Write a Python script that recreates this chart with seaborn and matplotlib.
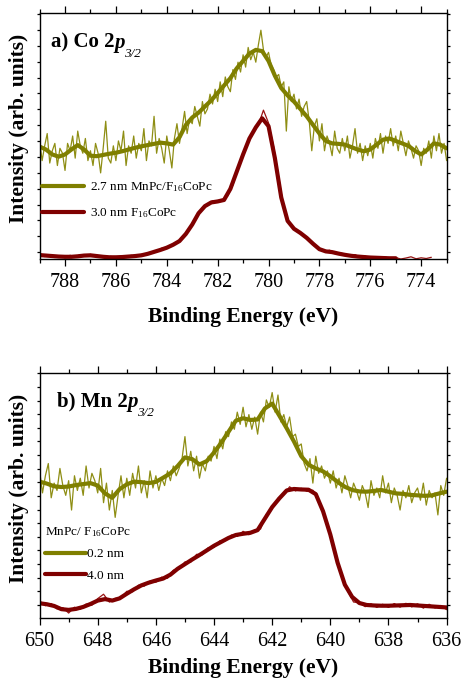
import numpy as np
import matplotlib
matplotlib.use("Agg")
import matplotlib.pyplot as plt
from matplotlib.ticker import MultipleLocator
import seaborn as sns

# -------------------------
# data (intensity in % of axis height)
# -------------------------
# a) Co 2p3/2 : smooth fits every 0.25 eV
co_fit_start, co_fit_step = 789.0, -0.25
co_olive_fit = [45.7, 44.5, 42.5, 41.6, 42.5, 44.5, 46.3, 44.5, 42.0,
                41.8, 42.3, 42.8, 43.2, 43.8, 44.5, 45.2, 45.8,
                46.3, 46.8, 47.3, 47.0, 46.5, 49.5, 54.5, 57.5,
                59.5, 62.0, 64.5, 67.5, 70.5, 73.5, 77.5, 80.5,
                83.5, 85.0, 84.5, 80.5, 74.5, 69.5, 66.5, 64.0,
                61.0, 58.0, 54.5, 51.0, 48.0, 47.0, 46.8, 46.5,
                45.5, 44.5, 43.8, 44.5, 46.5, 48.5, 49.0, 48.0,
                47.0, 46.0, 44.0, 42.5, 44.5, 47.0, 46.5, 45.0]
co_red_fit = [1.6, 1.4, 1.2, 1.0, 0.9, 0.9, 1.1, 1.4, 1.5,
              1.2, 0.9, 0.7, 0.7, 0.8, 1.0, 1.2, 1.5,
              2.1, 2.9, 3.7, 4.6, 5.8, 7.3, 10.2, 14.0,
              18.6, 21.5, 23.0, 23.4, 24.0, 28.5, 35.5, 42.5,
              49.0, 53.5, 57.2, 54.0, 41.0, 25.0, 15.5, 12.3,
              10.6, 8.6, 6.2, 4.0, 3.1, 2.8, 2.2, 1.7,
              1.3, 1.0, 0.8, 0.6, 0.5, 0.4, 0.3, 0.3]

# a) raw spectra: olive every 0.1 eV, red every 0.2 eV
co_olive_raw_step = -0.1
co_olive_raw = [48, 40, 46, 51, 39, 44, 47, 38, 45, 43,
                36, 47, 44, 50, 41, 52, 46, 43, 49, 40,
                44, 38, 47, 43, 35, 45, 56, 41, 39, 46,
                40, 48, 44, 52, 38, 46, 43, 50, 41, 47,
                44, 53, 40, 48, 46, 58, 43, 49, 45, 39,
                50, 44, 37, 49, 55, 47, 53, 60, 51, 57,
                55, 62, 58, 54, 64, 59, 61, 67, 63, 69,
                64, 72, 66, 74, 70, 68, 77, 73, 80, 76,
                83, 78, 86, 81, 84, 80, 87, 93, 85, 82,
                84, 79, 77, 74, 75, 70, 72, 52, 70, 64,
                67, 61, 65, 58, 62, 64, 56, 44, 54, 57,
                48, 55, 44, 50, 47, 42, 52, 45, 43, 49,
                44, 50, 41, 46, 53, 43, 47, 40, 46, 42,
                47, 41, 49, 45, 51, 43, 50, 47, 53, 46,
                50, 44, 52, 47, 42, 48, 45, 41, 46, 44,
                38, 45, 43, 48, 41, 50, 44, 51, 43, 47,
                40]
co_red_raw_step = -0.2
co_red_raw = [2.2, 1.0, 1.7, 0.6, 1.3, 0.5, 1.5, 0.8, 1.8, 1.1,
              1.9, 1.0, 1.3, 0.5, 1.1, 0.4, 1.2, 0.6, 1.5, 0.9,
              1.9, 1.7, 3.0, 2.9, 4.4, 4.3, 5.9, 6.5, 8.9, 10.7,
              14.3, 17.4, 20.9, 22.2, 23.6, 23.1, 24.2, 25.7, 30.1, 36.6,
              42.8, 47.4, 51.9, 54.5, 60.5, 55.3, 45.7, 33.3, 20.4, 14.7,
              12.0, 11.3, 9.2, 7.9, 5.3, 4.4, 3.0, 3.6, 2.2, 2.5,
              2.0, 1.1, 1.8, 0.6, 1.2, 0.3, 0.9, 0.2, 0.8, 0.1,
              0.6, 0.0, 0.4, 0.9, 0.1, 0.5, 0.2, 0.7]

# b) Mn 2p3/2 : smooth fits every 0.25 eV
mn_fit_start, mn_fit_step = 650.0, -0.25
mn_olive_fit = [55.6, 54.8, 53.7, 53.4, 53.6, 54.2, 54.6, 55.0, 54.0,
                50.8, 49.0, 52.5, 54.5, 55.6, 55.4, 55.0, 55.5,
                57.2, 59.0, 62.0, 65.5, 64.8, 62.6, 64.0, 67.5,
                71.5, 76.0, 80.5, 81.5, 80.8, 81.0, 85.5, 87.5,
                82.5, 77.4, 72.0, 66.0, 62.5, 61.0, 59.8, 57.8,
                55.5, 53.5, 52.2, 51.6, 51.5, 51.8, 52.2, 51.5,
                50.8, 50.6, 50.2, 50.0, 49.8, 50.0, 50.8, 51.5]
mn_red_fit = [5.9, 5.5, 4.8, 3.5, 3.2, 3.6, 4.4, 5.6, 7.0,
              7.6, 7.0, 7.9, 9.8, 11.6, 13.2, 14.3, 15.2,
              16.0, 17.6, 20.0, 21.9, 23.8, 25.6, 27.5, 29.4,
              31.0, 32.6, 33.8, 34.3, 34.7, 35.8, 40.5, 45.2,
              48.8, 52.0, 52.6, 52.4, 52.3, 50.5, 43.5, 34.0,
              22.5, 13.5, 8.5, 6.0, 5.2, 5.0, 4.9, 4.9,
              5.0, 5.1, 5.2, 5.0, 4.8, 4.6, 4.4, 4.2]

mn_olive_raw_step = -0.1
mn_olive_raw = [60, 51, 58, 63, 49, 55, 52, 61, 54, 50,
                56, 44, 58, 52, 57, 50, 62, 53, 59, 56,
                51, 61, 47, 55, 44, 52, 41, 50, 58, 49,
                57, 50, 59, 53, 62, 51, 56, 49, 60, 53,
                58, 52, 57, 54, 60, 56, 62, 58, 61, 65,
                74, 62, 68, 60, 66, 57, 63, 60, 66, 64,
                70, 65, 73, 69, 76, 74, 80, 77, 84, 79,
                86, 78, 83, 77, 82, 75, 84, 80, 89, 86,
                92, 84, 91, 80, 83, 78, 82, 74, 75, 70,
                71, 63, 60, 65, 55, 66, 59, 62, 57, 60,
                55, 60, 53, 57, 51, 58, 54, 49, 55, 52,
                48, 54, 51, 45, 56, 50, 53, 49, 58, 51,
                55, 47, 53, 50, 44, 52, 49, 54, 47, 51,
                53, 48, 55, 46, 52, 49, 51, 42, 54, 50,
                57]
mn_red_raw_step = -0.2
mn_red_raw = [6.8, 4.9, 5.8, 3.6, 4.1, 1.9, 4.3, 3.4, 5.6, 5.1,
              7.8, 9.6, 6.4, 7.9, 8.1, 10.8, 10.6, 13.3, 12.9, 15.0,
              14.5, 16.6, 16.1, 19.4, 19.8, 22.8, 22.7, 25.9, 25.7, 28.6,
              28.7, 31.4, 31.5, 33.8, 33.2, 35.3, 33.9, 35.9, 36.2, 42.3,
              44.6, 48.8, 50.3, 53.5, 51.8, 52.9, 51.6, 52.1, 47.8, 41.6,
              34.5, 24.2, 16.7, 10.9, 6.4, 6.2, 4.5, 5.7, 4.2, 5.5,
              4.2, 5.8, 4.3, 5.9, 4.4, 5.7, 3.9, 5.5, 4.0, 5.0,
              3.3]

co_labels = ["2.7 nm MnPc/F$_{16}$CoPc", "3.0 nm F$_{16}$CoPc"]
mn_labels = ["0.2 nm", "4.0 nm"]
mn_legend_title = "MnPc/ F$_{16}$CoPc"

OLIVE, OLIVE_RAW = "#7f7f00", "#8e8e14"
RED, RED_RAW = "#7f0000", "#9a1414"


def energies(start, step, values):
    return start + step * np.arange(len(values))


# -------------------------
# style
# -------------------------
sns.set_style("ticks")
plt.rcParams["font.family"] = ["Liberation Serif", "DejaVu Serif"]
plt.rcParams["mathtext.fontset"] = "custom"
plt.rcParams["mathtext.rm"] = "Liberation Serif"
plt.rcParams["mathtext.it"] = "Liberation Serif:italic"
plt.rcParams["mathtext.bf"] = "Liberation Serif:bold"
for key in ("text.color", "axes.labelcolor", "xtick.color", "ytick.color", "axes.edgecolor"):
    plt.rcParams[key] = "black"

fig = plt.figure(figsize=(4.64, 6.8), dpi=100)
ax1 = fig.add_axes([0.0853, 0.6191, 0.8772, 0.3618])
ax2 = fig.add_axes([0.0853, 0.0916, 0.8772, 0.3599])


def draw_panel(ax, fit_start, fit_step, olive_fit, red_fit,
               olive_raw, olive_step, red_raw, red_step, labels):
    sns.lineplot(x=energies(fit_start, olive_step, olive_raw), y=olive_raw, ax=ax,
                 color=OLIVE_RAW, lw=0.9)
    sns.lineplot(x=energies(fit_start, red_step, red_raw), y=red_raw, ax=ax,
                 color=RED_RAW, lw=0.9)
    sns.lineplot(x=energies(fit_start, fit_step, olive_fit), y=olive_fit, ax=ax,
                 color=OLIVE, lw=3.0, label=labels[0],
                 solid_joinstyle="round", solid_capstyle="round")
    sns.lineplot(x=energies(fit_start, fit_step, red_fit), y=red_fit, ax=ax,
                 color=RED, lw=3.0, label=labels[1],
                 solid_joinstyle="round", solid_capstyle="round")


def panel_title(ax, x, y, prefix):
    t1 = ax.text(x, y, prefix, transform=ax.transAxes, fontsize=15,
                 fontweight="bold", va="baseline")
    t2 = ax.annotate("p", xy=(1, 0), xycoords=t1, fontsize=15, fontweight="bold",
                     style="italic", va="bottom", ha="left")
    ax.annotate("3/2", xy=(1, 0), xycoords=t2, xytext=(-0.6, -5.0),
                textcoords="offset points", fontsize=9.5, style="italic",
                va="bottom", ha="left")


draw_panel(ax1, co_fit_start, co_fit_step, co_olive_fit, co_red_fit,
           co_olive_raw, co_olive_raw_step, co_red_raw, co_red_raw_step, co_labels)
draw_panel(ax2, mn_fit_start, mn_fit_step, mn_olive_fit, mn_red_fit,
           mn_olive_raw, mn_olive_raw_step, mn_red_raw, mn_red_raw_step, mn_labels)

ax1.set_xlim(789, 773)
ax2.set_xlim(650, 636)
ax1.yaxis.set_major_locator(MultipleLocator(6.45, offset=2.8))
ax2.yaxis.set_major_locator(MultipleLocator(5.57, offset=5.2))

for ax in (ax1, ax2):
    ax.set_ylim(0, 100)
    ax.xaxis.set_major_locator(MultipleLocator(2))
    ax.xaxis.set_minor_locator(MultipleLocator(1))
    ax.tick_params(axis="x", which="major", direction="out", length=5, width=0.9,
                   top=True, labelsize=14.5, pad=5)
    ax.tick_params(axis="x", which="minor", direction="out", length=3, width=0.9, top=True)
    ax.tick_params(axis="y", which="major", direction="out", length=2, width=0.9,
                   right=True, labelleft=False)
    for s in ax.spines.values():
        s.set_linewidth(1.0)
    ax.set_ylabel("Intensity (arb. units)", fontsize=15.5, fontweight="bold")
    ax.yaxis.set_label_coords(-0.025, 0.53)

ax1.set_xlabel("Binding Energy (eV)", fontsize=15.5, fontweight="bold", labelpad=11)
ax2.set_xlabel("Binding Energy (eV)", fontsize=15.5, fontweight="bold", labelpad=5)

panel_title(ax1, 0.028, 0.858, "a) Co 2")
panel_title(ax2, 0.042, 0.862, "b) Mn 2")

ax1.legend(loc="upper left", bbox_to_anchor=(0.006, 0.32), frameon=False,
           fontsize=9.5, handlelength=3.2, handletextpad=0.45, labelspacing=0.95,
           borderpad=0, borderaxespad=0)
ax2.legend(loc="upper left", bbox_to_anchor=(0.013, 0.378), frameon=False,
           title=mn_legend_title, title_fontsize=9.5, alignment="left",
           fontsize=9.5, handlelength=3.1, handletextpad=0.1, labelspacing=0.7,
           borderpad=0, borderaxespad=0)

fig.savefig("out.png", dpi=100)
